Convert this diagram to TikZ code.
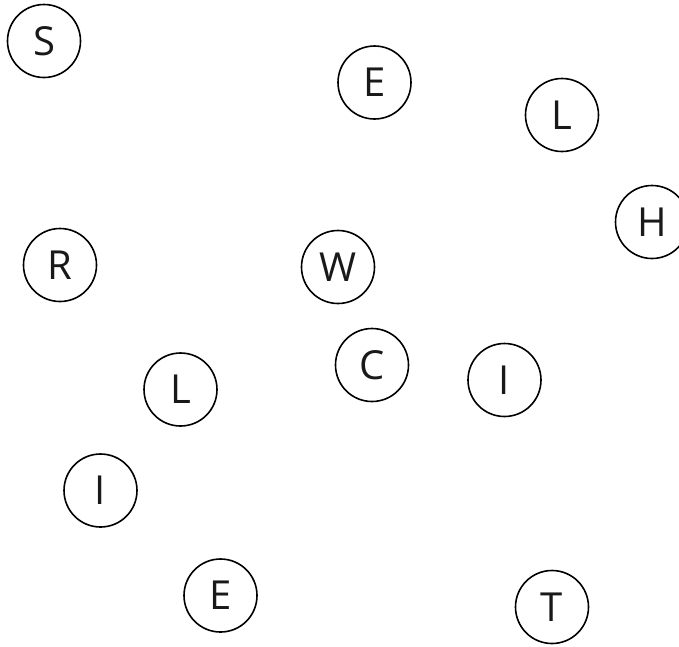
\documentclass[tikz,border=0pt]{standalone}
\usepackage{fontspec}
\setmainfont{Open Sans}
\begin{document}
\begin{tikzpicture}[x=1pt,y=-1pt,
  letter/.style={circle,draw=black,line width=1.6pt,minimum size=73pt,inner sep=0pt,
    font=\fontsize{40}{40}\selectfont,text=black!90}]
\useasboundingbox (0,0) rectangle (679,646);
\node[letter] (s)  at (44,41)    {S};
\node[letter] (e1) at (374.5,82.5) {E};
\node[letter] (l1) at (562,115)  {L};
\node[letter] (h)  at (652,222)  {H};
\node[letter] (r)  at (60,265)   {R};
\node[letter] (w)  at (338,267)  {W};
\node[letter] (c)  at (372,365)  {C};
\node[letter] (i1) at (504.5,380) {I};
\node[letter] (l2) at (180.5,389.5) {L};
\node[letter] (i2) at (100.5,490.5) {I};
\node[letter] (e2) at (220.5,595.5) {E};
\node[letter] (t)  at (552,607)  {T};
\end{tikzpicture}
\end{document}
